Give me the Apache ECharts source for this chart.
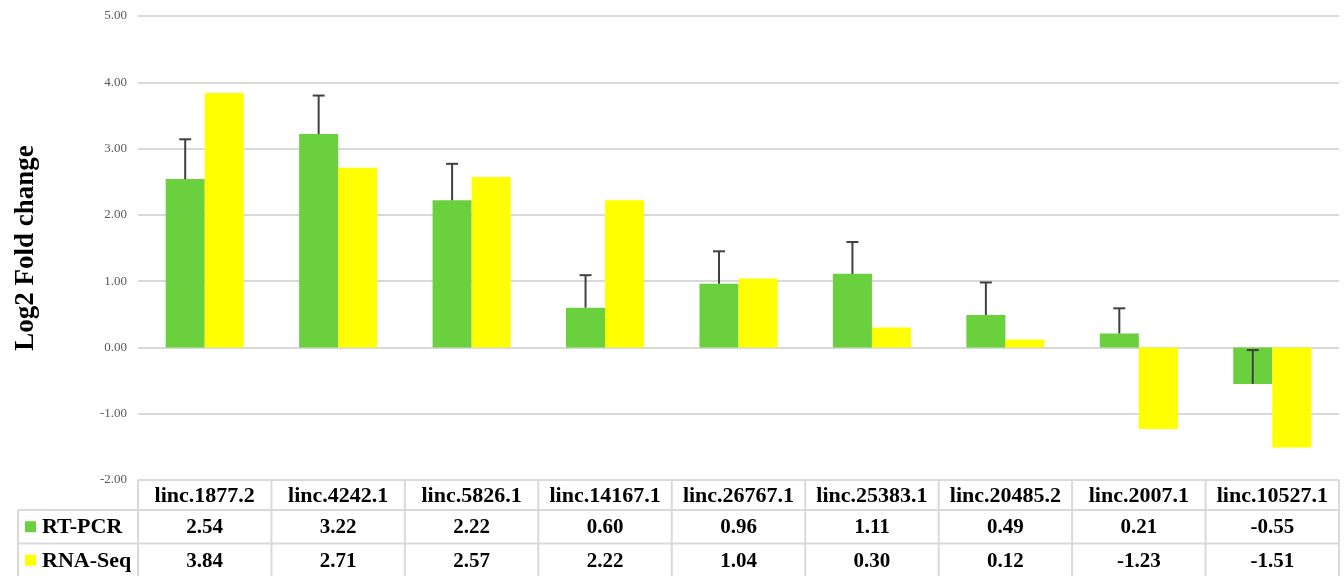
<!DOCTYPE html>
<html>
<head>
<meta charset="utf-8">
<script src="https://cdn.jsdelivr.net/npm/echarts@6/dist/echarts.min.js"></script>
<style>
  html, body { margin: 0; padding: 0; background: #fff; }
  #chart { width: 1344px; height: 576px; }
</style>
</head>
<body>
<div id="chart"></div>
<script>
// Expression of lincRNAs: RT-PCR vs RNA-Seq (log2 fold change)
const categories = ['linc.1877.2', 'linc.4242.1', 'linc.5826.1', 'linc.14167.1', 'linc.26767.1',
                    'linc.25383.1', 'linc.20485.2', 'linc.2007.1', 'linc.10527.1'];
const rtPcr = [2.54, 3.22, 2.22, 0.60, 0.96, 1.11, 0.49, 0.21, -0.55];
const rnaSeq = [3.84, 2.71, 2.57, 2.22, 1.04, 0.30, 0.12, -1.23, -1.51];
const rtPcrErr = [0.60, 0.58, 0.55, 0.49, 0.49, 0.48, 0.49, 0.38, 0.51];
const seriesNames = ['RT-PCR', 'RNA-Seq'];
const yMin = -2, yMax = 5, yStep = 1;

const GREEN = '#6ad03e';
const YELLOW = '#ffff00';
const GRID_COLOR = '#d9d9d9';
const SERIF = '"Liberation Serif", "Times New Roman", serif';
const CAT_GAP = 0.415; // fraction of each band left empty around the pair of bars

const chart = echarts.init(document.getElementById('chart'), null, { renderer: 'canvas' });

const errData = rtPcr.map((v, i) => [i, v, rtPcrErr[i]]);

const option = {
  animation: false,
  backgroundColor: '#ffffff',
  grid: { left: 138, right: 5, top: 16, bottom: 96 },
  xAxis: {
    type: 'category',
    data: categories,
    axisLine: { show: false },
    axisTick: { show: false },
    axisLabel: { show: false },
    splitLine: { show: false }
  },
  yAxis: {
    type: 'value',
    min: yMin, max: yMax, interval: yStep,
    name: 'Log2 Fold change',
    nameLocation: 'middle',
    nameGap: 98,
    nameTextStyle: { fontFamily: SERIF, fontWeight: 'bold', fontSize: 27, color: '#000' },
    axisLine: { show: false },
    axisTick: { show: false },
    axisLabel: {
      margin: 11,
      fontFamily: SERIF, fontSize: 13, color: '#595959',
      formatter: v => v.toFixed(2)
    },
    splitLine: { lineStyle: { color: GRID_COLOR, width: 2 } }
  },
  series: [
    {
      name: seriesNames[0], type: 'bar', data: rtPcr,
      itemStyle: { color: GREEN },
      barGap: '0%', barCategoryGap: (CAT_GAP * 100) + '%'
    },
    {
      name: seriesNames[1], type: 'bar', data: rnaSeq,
      itemStyle: { color: YELLOW },
      barGap: '0%', barCategoryGap: (CAT_GAP * 100) + '%'
    },
    {
      // upper error bars on the RT-PCR bars
      name: 'RT-PCR error', type: 'custom', data: errData, z: 10,
      renderItem: function (params, api) {
        const idx = api.value(0);
        const base = api.coord([idx, api.value(1)]);
        const top = api.coord([idx, api.value(1) + api.value(2)]);
        const band = api.size([1, 0])[0];
        const barW = band * (1 - CAT_GAP) / 2;
        const x = base[0] - barW / 2;
        const cap = 6;
        const style = { stroke: '#404040', lineWidth: 2 };
        return {
          type: 'group',
          children: [
            { type: 'line', shape: { x1: x, y1: base[1], x2: x, y2: top[1] }, style: style },
            { type: 'line', shape: { x1: x - cap, y1: top[1], x2: x + cap, y2: top[1] }, style: style }
          ]
        };
      }
    }
  ]
};

chart.setOption(option);

// Data table under the plot, aligned with the category bands
function buildTable() {
  const c0 = chart.convertToPixel({ xAxisIndex: 0 }, categories[0]);
  const c1 = chart.convertToPixel({ xAxisIndex: 0 }, categories[1]);
  const band = c1 - c0;
  const left = c0 - band / 2;
  const right = left + band * categories.length;
  const top = chart.convertToPixel({ yAxisIndex: 0 }, yMin);
  const headH = 30, rowH = 33.5;
  const labelLeft = 18;
  const rows = [rtPcr, rnaSeq];
  const colors = [GREEN, YELLOW];
  const lineStyle = { stroke: GRID_COLOR, lineWidth: 2 };
  const els = [];

  const hLine = (x1, x2, y) => els.push({ type: 'line', shape: { x1, y1: y, x2, y2: y }, style: lineStyle, silent: true });
  const vLine = (x, y1, y2) => els.push({ type: 'line', shape: { x1: x, y1, x2: x, y2 }, style: lineStyle, silent: true });

  const bottom = top + headH + rowH * 2;
  hLine(left, right, top);
  hLine(labelLeft, right, top + headH);
  hLine(labelLeft, right, top + headH + rowH);
  hLine(labelLeft, right, bottom);
  vLine(labelLeft, top + headH, bottom);
  for (let i = 0; i <= categories.length; i++) {
    vLine(left + band * i, top, bottom);
  }

  const textStyle = (txt, x, y, size, align) => ({
    type: 'text', silent: true, x: x, y: y,
    style: {
      text: txt, fontFamily: SERIF, fontWeight: 'bold', fontSize: size, fill: '#000',
      align: align || 'center', verticalAlign: 'middle'
    }
  });

  categories.forEach((c, i) => {
    const cx = left + band * (i + 0.5);
    els.push(textStyle(c, cx, top + headH / 2 + 1, 22));
    rows.forEach((r, k) => {
      els.push(textStyle(r[i].toFixed(2), cx, top + headH + rowH * (k + 0.5) + 1, 21));
    });
  });

  seriesNames.forEach((n, k) => {
    const cy = top + headH + rowH * (k + 0.5);
    els.push({ type: 'rect', silent: true, shape: { x: 25, y: cy - 5.5, width: 11, height: 11 }, style: { fill: colors[k] } });
    els.push(textStyle(n, 42, cy + 1, 22, 'left'));
  });

  chart.setOption({ graphic: { elements: els } });
}

buildTable();
</script>
</body>
</html>
